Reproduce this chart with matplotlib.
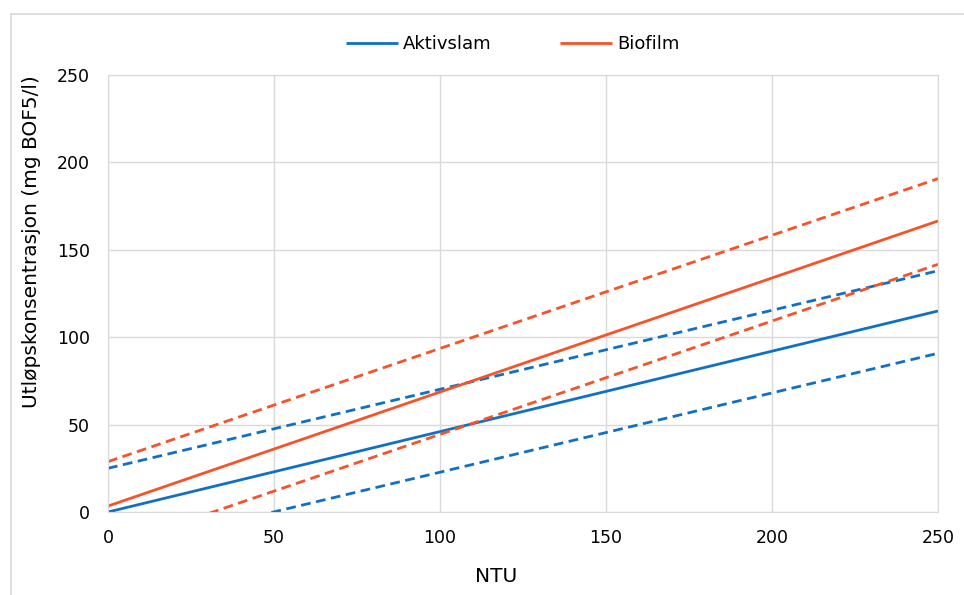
import numpy as np
import matplotlib.pyplot as plt
from matplotlib.lines import Line2D

# data (line end points at NTU 0 and 250)
ntu = [0, 250]
aktiv = [0, 115]
aktiv_hi = [25, 138]
aktiv_lo = [-22.6, 90.8]
bio = [3.4, 166.5]
bio_hi = [28.8, 190.7]
bio_lo = [-20.5, 141.7]

blue = '#1170C4'
orange = '#F5532A'

fig = plt.figure(figsize=(9.64, 5.95), dpi=100)
ax = fig.add_axes([108/964, 1-512/595, 830/964, 437/595])

# chart area border (left and top only visible)
fig.add_artist(Line2D([11/964, 11/964], [0, 1-13.5/595], color='#D9D9D9', lw=1.2, transform=fig.transFigure))
fig.add_artist(Line2D([11/964, 1], [1-13.5/595, 1-13.5/595], color='#D9D9D9', lw=1.2, transform=fig.transFigure))

dash = (0, (3.5, 2))
ax.plot(ntu, aktiv, color=blue, lw=2, label='Aktivslam', solid_capstyle='butt')
ax.plot(ntu, aktiv_hi, color=blue, lw=2, ls=dash)
ax.plot(ntu, aktiv_lo, color=blue, lw=2, ls=dash)
ax.plot(ntu, bio, color=orange, lw=2, label='Biofilm', solid_capstyle='butt')
ax.plot(ntu, bio_hi, color=orange, lw=2, ls=dash)
ax.plot(ntu, bio_lo, color=orange, lw=2, ls=dash)

ax.set_xlim(0, 250)
ax.set_ylim(0, 250)
ax.set_xticks(np.arange(0, 251, 50))
ax.set_yticks(np.arange(0, 251, 50))
ax.grid(True, color='#D9D9D9', lw=1)
ax.set_axisbelow(True)
for s in ax.spines.values():
    s.set_color('#D9D9D9')
ax.tick_params(length=0, labelsize=12.5, pad=12, colors='#000000')
ax.tick_params(axis='y', pad=13)

ax.set_xlabel('NTU', fontsize=14.5)
ax.set_ylabel('Utløpskonsentrasjon (mg BOF5/l)', fontsize=14.5)
ax.xaxis.set_label_coords((496-108)/830, -(577-512)/437)
ax.yaxis.set_label_coords((32-108)/830, (512-242)/437)
ax.xaxis.label.set_va('center')
ax.yaxis.label.set_va('center')

fig.legend(loc='center', bbox_to_anchor=(0.532, 1-44/595), ncol=2, frameon=False,
           fontsize=13, handlelength=2.88, handletextpad=0.28, columnspacing=3.8)

plt.savefig('out.png', dpi=100)
